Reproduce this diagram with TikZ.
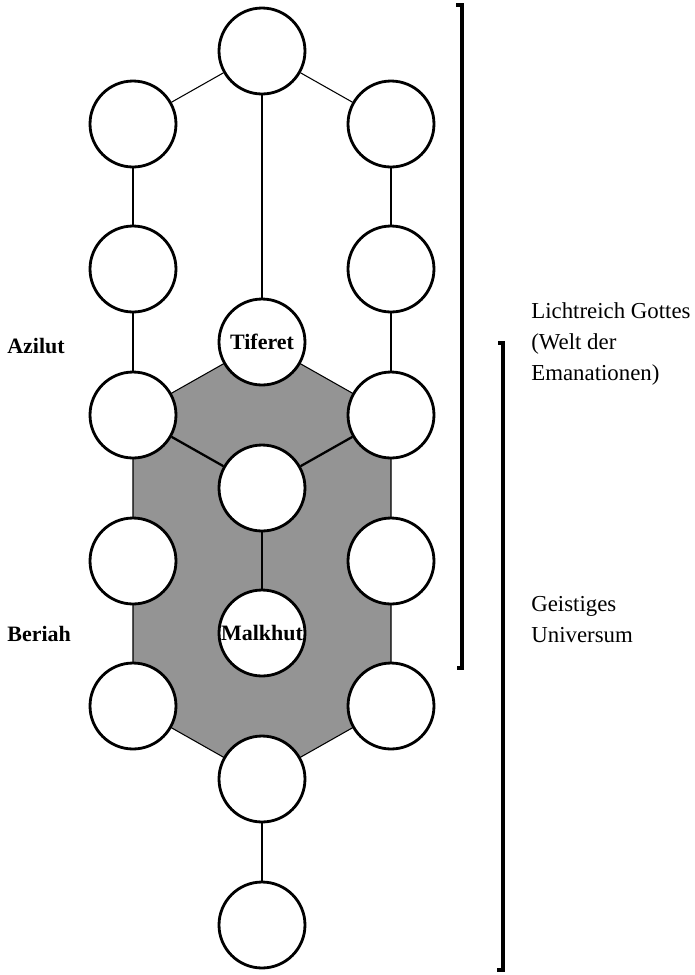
\documentclass[tikz,border=0pt]{standalone}
\usepackage{fontspec}
\setmainfont{Liberation Serif}
\begin{document}
\begin{tikzpicture}[x=0.02cm, y=-0.02cm, font=\fontsize{13}{17.6}\selectfont]
        \tikzset{
          sefira/.style={circle, draw, line width=1.6pt, fill=white, minimum size=1.72cm, inner sep=0pt, font=\fontsize{12.5}{15}\selectfont\bfseries},
          path/.style={line width=0.6pt},
          strong/.style={line width=1.3pt},
          bracket/.style={line width=2pt},
          world/.style={anchor=west, inner sep=0pt, font=\fontsize{12.5}{15}\selectfont\bfseries}
        }
        \useasboundingbox (0,0) rectangle (695,975);

        % shaded world between the centres
        \filldraw[fill=black!42, draw=black, line width=0.6pt] (262,342) -- (391,415) -- (391,706) -- (262,779) -- (133,706) -- (133,415) -- cycle;

        \node[sefira] (top) at (262,51) {};
        \node[sefira] (l1) at (133,124) {};
        \node[sefira] (r1) at (391,124) {};
        \node[sefira] (l2) at (133,269) {};
        \node[sefira] (r2) at (391,269) {};
        \node[sefira] (tif) at (262,342) {Tiferet};
        \node[sefira] (l3) at (133,415) {};
        \node[sefira] (r3) at (391,415) {};
        \node[sefira] (mid) at (262,488) {};
        \node[sefira] (l4) at (133,561) {};
        \node[sefira] (r4) at (391,561) {};
        \node[sefira] (mal) at (262,633) {Malkhut};
        \node[sefira] (l5) at (133,706) {};
        \node[sefira] (r5) at (391,706) {};
        \node[sefira] (low) at (262,779) {};
        \node[sefira] (bot) at (262,925) {};

        \draw[path] (top) -- (l1);
        \draw[path] (top) -- (r1);
        \draw[path] (top) -- (tif);
        \draw[path] (l1) -- (l2) -- (l3);
        \draw[path] (r1) -- (r2) -- (r3);
        \draw[strong] (l3) -- (mid);
        \draw[strong] (r3) -- (mid);
        \draw[strong] (mid) -- (mal);
        \draw[path] (low) -- (bot);

        \node[world] (azilut) at (7,346) {Azilut};
        \node[world] (beriah) at (7,634) {Beriah};

        % worlds on the right
        \draw[bracket] (456,5) -- (462,5) -- (462,668) -- (457,668);
        \draw[bracket] (498,343) -- (503,343) -- (503,970) -- (497,970);
        \node[anchor=north west, align=left, inner sep=0pt] (licht) at (531,302) {Lichtreich Gottes\\(Welt der\\Emanationen)};
        \node[anchor=north west, align=left, inner sep=0pt] (geist) at (531,596) {Geistiges\\Universum};
\end{tikzpicture}
\end{document}
